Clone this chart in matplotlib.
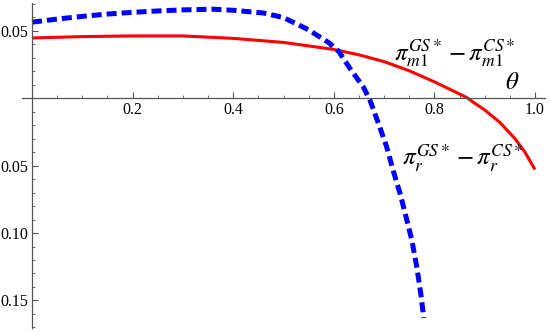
import matplotlib.pyplot as plt
from matplotlib.ticker import MultipleLocator, FuncFormatter

# values
theta_m1 = [0.0, 0.1, 0.2, 0.3, 0.4, 0.5, 0.6, 0.65, 0.7, 0.75, 0.8, 0.85, 0.866, 0.88, 0.9, 0.93, 0.96, 0.98, 1.0]
diff_m1 = [0.0445, 0.0455, 0.046, 0.046, 0.0442, 0.0412, 0.036, 0.032, 0.027, 0.0202, 0.012, 0.003, 0.0, -0.0038, -0.0088, -0.018, -0.030, -0.040, -0.053]

theta_r = [0.0, 0.05, 0.1, 0.15, 0.2, 0.25, 0.3, 0.36, 0.4, 0.46, 0.5, 0.55, 0.59, 0.61, 0.632, 0.659, 0.672, 0.689, 0.705, 0.718, 0.732, 0.742, 0.755, 0.765, 0.773, 0.779]
diff_r = [0.0562, 0.0585, 0.0605, 0.0622, 0.0635, 0.0645, 0.0653, 0.0658, 0.065, 0.063, 0.0596, 0.0505, 0.041, 0.0345, 0.022, 0.008, -0.0017, -0.019, -0.036, -0.0536, -0.071, -0.0856, -0.105, -0.125, -0.145, -0.163]

xticks = [0.2, 0.4, 0.6, 0.8, 1.0]
yticks = [0.05, -0.05, -0.10, -0.15]

plt.rcParams['font.family'] = 'serif'
plt.rcParams['font.serif'] = ['Liberation Serif', 'DejaVu Serif']
plt.rcParams['mathtext.fontset'] = 'stix'

fig = plt.figure(figsize=(5.5, 3.32), dpi=100)
ax = fig.add_axes([22 / 550, 3.7 / 332, 523 / 550, 325.3 / 332])

ax.plot(theta_m1, diff_m1, color='#ff0000', linewidth=2.2, solid_capstyle='butt')
ax.plot(theta_r, diff_r, color='#0000ff', linewidth=3.6, linestyle=(0, (2.0, 1.0)))

ax.set_xlim(-0.02, 1.02)
ax.set_ylim(-0.1706, 0.0704)

ax.spines['left'].set_position(('data', 0))
ax.spines['bottom'].set_position(('data', 0))
ax.spines['top'].set_visible(False)
ax.spines['right'].set_visible(False)
for s in ['left', 'bottom']:
    ax.spines[s].set_color('#555555')
    ax.spines[s].set_linewidth(0.9)

ax.set_xticks(xticks)
ax.set_yticks(yticks)
ax.xaxis.set_minor_locator(MultipleLocator(0.05))
ax.yaxis.set_minor_locator(MultipleLocator(0.01))
ax.xaxis.set_major_formatter(FuncFormatter(lambda v, p: '%.1f' % v))
ax.yaxis.set_major_formatter(FuncFormatter(lambda v, p: '%.2f' % abs(v)))
ax.tick_params(which='major', direction='in', length=4, width=0.8, color='#555555',
               labelsize=11.5, pad=3, labelfontfamily='Liberation Serif')
ax.tick_params(which='minor', direction='in', length=2, width=0.6, color='#555555')

ax.text(0.94, 0.007, r'$\theta$', fontsize=18, va='baseline')
ax.text(0.72, 0.028, r'$\pi_{m1}^{GS*}-\pi_{m1}^{CS*}$', fontsize=18, va='baseline')
ax.text(0.735, -0.05, r'$\pi_{r}^{GS*}-\pi_{r}^{CS*}$', fontsize=18, va='baseline')

fig.savefig('out.png', dpi=100)
